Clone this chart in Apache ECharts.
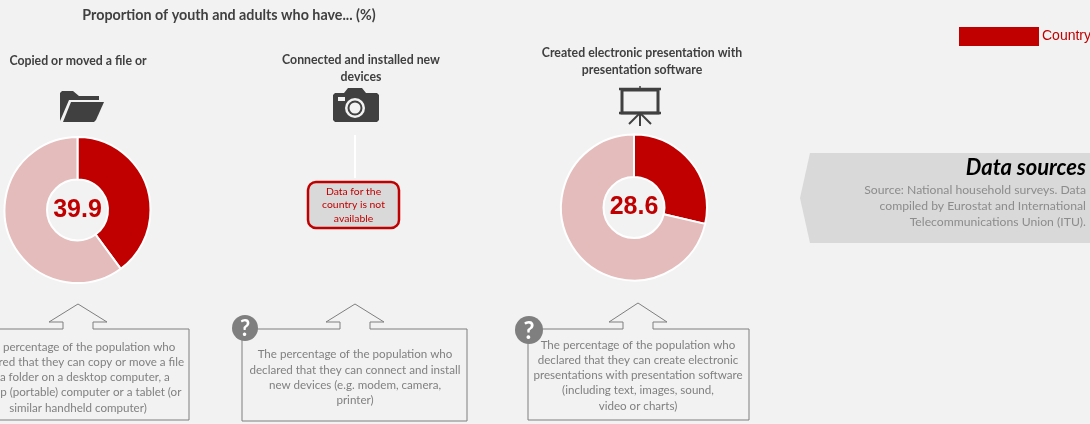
<!DOCTYPE html>
<html>
<head>
<meta charset="utf-8">
<style>
html, body { margin: 0; padding: 0; background: #f2f2f2; }
#chart { width: 1090px; height: 424px; }
</style>
<script src="https://cdn.jsdelivr.net/npm/echarts@6/dist/echarts.min.js"></script>
</head>
<body>
<div id="chart"></div>
<script>
const chartTitle = "Proportion of youth and adults who have... (%)";
const indicators = ["Copied or moved a file or", "Connected and installed new\ndevices", "Created electronic presentation with\npresentation software"];
const countryValues = [39.9, null, 28.6];
const legendLabel = "Country";
const noDataText = "Data for the\ncountry is not\navailable";
const notes = [
    "The percentage of the population who\ndeclared that they can copy or move a file\nor a folder on a desktop computer, a\nlaptop (portable) computer or a tablet (or\nsimilar handheld computer)",
    "The percentage of the population who\ndeclared that they can connect and install\nnew devices (e.g. modem, camera,\nprinter)",
    "The percentage of the population who\ndeclared that they can create electronic\npresentations with presentation software\n(including text, images, sound,\nvideo or charts)"
];
const sourceTitle = "Data sources";
const sourceText = "Source: National household surveys. Data\ncompiled by Eurostat and International\nTelecommunications Union (ITU).";

const RED = "#c00000";
const PINK = "#e4bcbc";
const DARK = "#404040";
const FONT = "Lato, 'Open Sans', sans-serif";

const chart = echarts.init(document.getElementById("chart"));

function donut(value, center) {
    return {
        type: "pie",
        center: center,
        radius: [30.5, 73],
        startAngle: 90,
        clockwise: true,
        silent: true,
        animation: false,
        itemStyle: { borderColor: "#ffffff", borderWidth: 2 },
        labelLine: { show: false },
        label: {
            show: true,
            position: "center",
            formatter: value.toFixed(1),
            fontFamily: "'Liberation Sans', Arial, sans-serif",
            fontWeight: "bold",
            fontSize: 25,
            color: RED
        },
        data: [
            { value: value, itemStyle: { color: RED } },
            { value: 100 - value, itemStyle: { color: PINK } }
        ]
    };
}

function text(x, y, str, size, color, extra) {
    return {
        type: "text",
        silent: true,
        x: x,
        y: y,
        style: Object.assign({
            text: str,
            fontFamily: FONT,
            fontSize: size,
            fill: color,
            align: "center",
            verticalAlign: "middle"
        }, extra || {})
    };
}

// callout box with the little arrow on top
function callout(left, right, top, bottom, tipX, tipY) {
    return {
        type: "polygon",
        silent: true,
        shape: {
            points: [
                [left, top], [tipX - 15, top], [tipX - 15, top - 7], [tipX - 29, top - 7], [tipX, tipY],
                [tipX + 29, top - 7], [tipX + 15, top - 7], [tipX + 15, top], [right, top], [right, bottom], [left, bottom]
            ]
        },
        style: { fill: "#f2f2f2", stroke: "#7f7f7f", lineWidth: 1 }
    };
}

function question(x, y, r) {
    return [
        { type: "circle", silent: true, shape: { cx: x, cy: y, r: r }, style: { fill: "#7f7f7f" } },
        text(x, y + 1, "?", r * 1.7, "#ffffff", { fontWeight: "bold" })
    ];
}

const folderIcon = [
    { type: "polygon", silent: true, shape: { points: [[60, 121], [60, 93], [62, 91], [73, 91], [79, 96], [99, 96], [99, 100], [69, 100]] }, style: { fill: DARK } },
    { type: "polygon", silent: true, shape: { points: [[63, 122], [71, 102], [104, 102], [96, 120], [94, 122]] }, style: { fill: DARK } }
];

const cameraIcon = [
    { type: "polygon", silent: true, shape: { points: [[335, 93], [344, 93], [348, 88], [362, 88], [366, 93], [377, 93], [379, 95], [379, 120], [377, 122], [335, 122], [333, 120], [333, 95]] }, style: { fill: DARK } },
    { type: "circle", silent: true, shape: { cx: 355, cy: 108, r: 10 }, style: { fill: "#f2f2f2" } },
    { type: "circle", silent: true, shape: { cx: 355, cy: 108, r: 7.5 }, style: { fill: DARK } },
    { type: "circle", silent: true, shape: { cx: 355, cy: 108, r: 5.5 }, style: { fill: "#f2f2f2" } },
    { type: "rect", silent: true, shape: { x: 338, y: 97, width: 7, height: 4 }, style: { fill: "#f2f2f2" } }
];

const projectorIcon = [
    { type: "rect", silent: true, shape: { x: 622, y: 90, width: 36, height: 23 }, style: { fill: "none", stroke: DARK, lineWidth: 3 } },
    { type: "line", silent: true, shape: { x1: 619, y1: 89, x2: 661, y2: 89 }, style: { stroke: DARK, lineWidth: 2.5 } },
    { type: "line", silent: true, shape: { x1: 619, y1: 113, x2: 661, y2: 113 }, style: { stroke: DARK, lineWidth: 2.5 } },
    { type: "line", silent: true, shape: { x1: 640, y1: 86, x2: 640, y2: 89 }, style: { stroke: DARK, lineWidth: 1.5 } },
    { type: "line", silent: true, shape: { x1: 640, y1: 113, x2: 640, y2: 126 }, style: { stroke: DARK, lineWidth: 2 } },
    { type: "line", silent: true, shape: { x1: 640, y1: 113, x2: 629, y2: 124 }, style: { stroke: DARK, lineWidth: 2 } },
    { type: "line", silent: true, shape: { x1: 640, y1: 113, x2: 651, y2: 124 }, style: { stroke: DARK, lineWidth: 2 } }
];

const graphics = [
    text(229, 15, chartTitle, 14.3, "#404040", { fontWeight: "bold" }),
    text(78, 61, indicators[0], 12.3, "#404040", { fontWeight: "bold", lineHeight: 17 }),
    text(361, 69, indicators[1], 12.3, "#404040", { fontWeight: "bold", lineHeight: 17 }),
    text(642, 62, indicators[2], 12.3, "#404040", { fontWeight: "bold", lineHeight: 17 }),

    { type: "rect", silent: true, shape: { x: 959, y: 27, width: 80, height: 19 }, style: { fill: RED } },
    text(1042, 36.5, legendLabel, 14, RED, { align: "left", fontFamily: "'Liberation Sans', Arial, sans-serif" }),

    { type: "polygon", silent: true, shape: { points: [[800, 198], [810, 153], [1090, 153], [1090, 243], [810, 243]] }, style: { fill: "#d9d9d9" } },
    text(1086, 168, sourceTitle, 22, "#000000", { align: "right", fontWeight: "bold", fontStyle: "italic" }),
    text(1086, 206, sourceText, 12.2, "#8c8c8c", { align: "right", lineHeight: 16 }),

    { type: "line", silent: true, shape: { x1: 355, y1: 135, x2: 355, y2: 178 }, style: { stroke: "#ffffff", lineWidth: 2 } },
    { type: "rect", silent: true, shape: { x: 308, y: 182, width: 91, height: 46, r: 8 }, style: { fill: "#d9d9d9", stroke: RED, lineWidth: 2.5 } },
    text(353.5, 205, noDataText, 10.4, RED, { lineHeight: 13.5 }),

    callout(-5, 189, 329, 420, 78, 304),
    text(78, 377.5, notes[0], 11.6, "#808080", { lineHeight: 15.2 }),
    callout(242, 467, 329, 421, 355, 304),
    text(355, 377.5, notes[1], 11.6, "#808080", { lineHeight: 15.2 }),
    callout(528, 749, 329, 420, 638, 303),
    text(638, 375.5, notes[2], 11.6, "#808080", { lineHeight: 15.2 })
].concat(question(245, 328, 13), question(529, 330, 14), folderIcon, cameraIcon, projectorIcon);

chart.setOption({
    backgroundColor: "#f2f2f2",
    animation: false,
    graphic: { elements: graphics },
    series: [donut(countryValues[0], [77.5, 210]), donut(countryValues[2], [634, 207.5])]
});
</script>
</body>
</html>
